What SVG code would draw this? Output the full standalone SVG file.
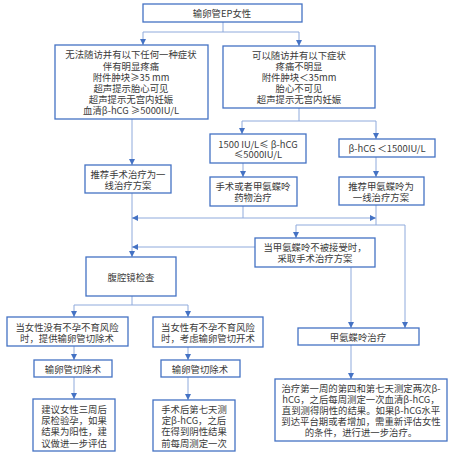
<svg xmlns="http://www.w3.org/2000/svg" width="468" height="469" viewBox="0 0 468 469">
<defs>
<style>
.box{fill:#fff;stroke:#4472C4;stroke-width:1.3}
.ln{fill:none;stroke:#8FAADC;stroke-width:1}
.arr{marker-end:url(#ah)}
text{font-family:"Noto Sans CJK SC","Noto Sans",sans-serif;font-size:9.4px;fill:#3a3a3a;text-anchor:middle;dominant-baseline:central}
</style>
<marker id="ah" viewBox="0 0 6 6" refX="6" refY="3" markerWidth="6" markerHeight="6" markerUnits="userSpaceOnUse" orient="auto">
<path d="M0,0 L6,3 L0,6 z" fill="#4472C4"/>
</marker>
</defs>
<rect width="468" height="469" fill="#fff"/>
<g id="connectors">
<path class="ln" d="M223,22 V32 M143,32 H299"/>
<path class="ln arr" d="M143,32 V45"/>
<path class="ln arr" d="M299,32 V46"/>
<path class="ln" d="M299,108 V121 M242,121 H376"/>
<path class="ln arr" d="M242,121 V134"/>
<path class="ln arr" d="M376,121 V139"/>
<path class="ln arr" d="M243,163 V177"/>
<path class="ln arr" d="M376,157 V177"/>
<path class="ln arr" d="M132,119 V165"/>
<path class="ln arr" d="M132,193 V257"/>
<path class="ln" d="M243,206 V218"/>
<path class="ln arr" d="M243,218 H132"/>
<path class="ln arr" d="M243,218 H376"/>
<path class="ln" d="M376,205 V225 M296,225 H405"/>
<path class="ln arr" d="M296,225 V238"/>
<path class="ln arr" d="M405,225 V328"/>
<path class="ln arr" d="M255,247 H132"/>
<path class="ln arr" d="M351,267 V328"/>
<path class="ln arr" d="M351,345 V379"/>
<path class="ln" d="M132,296 V305 M74,305 H188"/>
<path class="ln arr" d="M74,305 V317"/>
<path class="ln arr" d="M188,305 V317"/>
<path class="ln arr" d="M74,346 V360"/>
<path class="ln arr" d="M188,347 V360"/>
<path class="ln arr" d="M74,377 V399"/>
<path class="ln arr" d="M188,377 V400"/>
</g>
<g id="n-top"><rect class="box" x="143" y="4" width="159" height="18"/><text x="222" y="13">输卵管EP女性</text></g>
<g id="n-left"><rect class="box" x="55" y="45" width="153" height="74"/>
<text x="131" y="54">无法随访并有以下任何一种症状</text>
<text x="131" y="66">伴有明显疼痛</text>
<text x="131" y="77">附件肿块≥35 mm</text>
<text x="131" y="88">超声提示胎心可见</text>
<text x="131" y="99">超声提示无宫内妊娠</text>
<text x="131" y="110">血清β-hCG ≥5000IU/L</text></g>
<g id="n-right"><rect class="box" x="223" y="46" width="152" height="62"/>
<text x="299" y="55">可以随访并有以下症状</text>
<text x="299" y="66">疼痛不明显</text>
<text x="299" y="77">附件肿块＜35mm</text>
<text x="299" y="88">胎心不可见</text>
<text x="299" y="99">超声提示无宫内妊娠</text></g>
<g id="n-mid-hcg"><rect class="box" x="210" y="134" width="96" height="29"/>
<text x="258" y="144">1500 IU/L≤ β-hCG</text>
<text x="258" y="154">≤5000IU/L</text></g>
<g id="n-low-hcg"><rect class="box" x="339" y="139" width="96" height="18"/>
<text x="387" y="148">β-hCG ＜1500IU/L</text></g>
<g id="n-surg-first"><rect class="box" x="85" y="165" width="86" height="28"/>
<text x="128" y="174">推荐手术治疗为一</text>
<text x="128" y="185">线治疗方案</text></g>
<g id="n-either"><rect class="box" x="210" y="177" width="87" height="29"/>
<text x="253" y="186">手术或者甲氨蝶呤</text>
<text x="253" y="197">药物治疗</text></g>
<g id="n-mtx-first"><rect class="box" x="339" y="177" width="85" height="28"/>
<text x="381" y="186">推荐甲氨蝶呤为</text>
<text x="381" y="197">一线治疗方案</text></g>
<g id="n-mtx-refused"><rect class="box" x="255" y="238" width="120" height="29"/>
<text x="315" y="247">当甲氨蝶呤不被接受时，</text>
<text x="315" y="258">采取手术治疗方案</text></g>
<g id="n-lap"><rect class="box" x="86" y="257" width="90" height="39"/>
<text x="131" y="277">腹腔镜检查</text></g>
<g id="n-no-risk"><rect class="box" x="7" y="317" width="121" height="29"/>
<text x="67" y="327">当女性没有不孕不育风险</text>
<text x="67" y="338">时，提供输卵管切除术</text></g>
<g id="n-risk"><rect class="box" x="153" y="317" width="110" height="30"/>
<text x="208" y="327">当女性有不孕不育风险</text>
<text x="208" y="338">时，考虑输卵管切开术</text></g>
<g id="n-mtx"><rect class="box" x="298" y="328" width="121" height="17"/>
<text x="358" y="337">甲氨蝶呤治疗</text></g>
<g id="n-salp1"><rect class="box" x="34" y="360" width="78" height="17"/>
<text x="73" y="369">输卵管切除术</text></g>
<g id="n-salp2"><rect class="box" x="161" y="360" width="79" height="17"/>
<text x="200" y="369">输卵管切除术</text></g>
<g id="n-follow1"><rect class="box" x="33" y="399" width="82" height="52"/>
<text x="74" y="409">建议女性三周后</text>
<text x="74" y="420">尿检验孕，如果</text>
<text x="74" y="431">结果为阳性，建</text>
<text x="74" y="443">议做进一步评估</text></g>
<g id="n-follow2"><rect class="box" x="153" y="400" width="82" height="51"/>
<text x="194" y="409">手术后第七天测</text>
<text x="194" y="420">定β-hCG，之后</text>
<text x="194" y="431">在得到阴性结果</text>
<text x="194" y="443">前每周测定一次</text></g>
<g id="n-follow3"><rect class="box" x="275" y="379" width="172" height="62"/>
<text x="361" y="388">治疗第一周的第四和第七天测定两次β-</text>
<text x="361" y="399">hCG，之后每周测定一次血清β-hCG，</text>
<text x="361" y="410">直到测得阴性的结果。如果β-hCG水平</text>
<text x="361" y="421">到达平台期或者增加，需重新评估女性</text>
<text x="361" y="432">的条件，进行进一步治疗。</text></g>
</svg>
